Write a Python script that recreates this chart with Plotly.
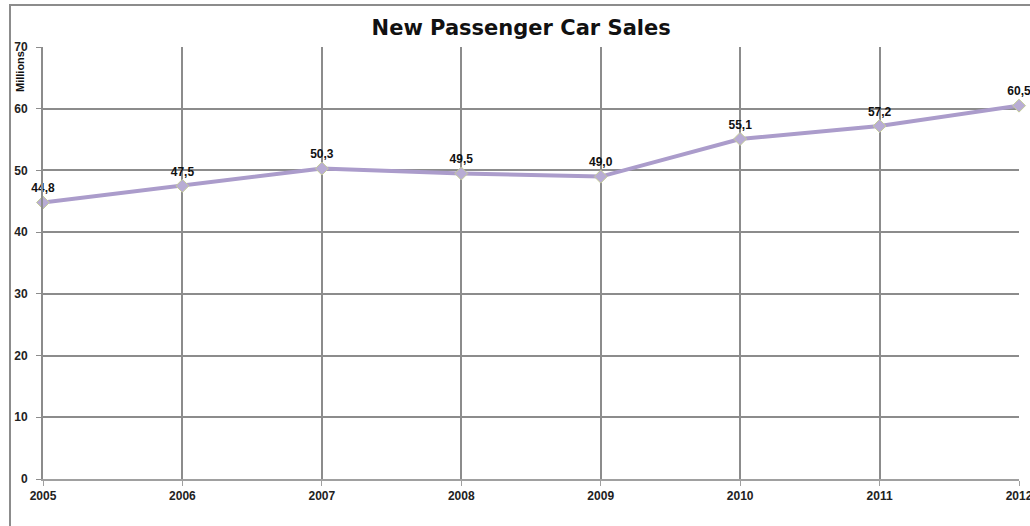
import plotly.graph_objects as go

years = [2005, 2006, 2007, 2008, 2009, 2010, 2011, 2012]
sales = [44.8, 47.5, 50.3, 49.5, 49.0, 55.1, 57.2, 60.5]
labels = [f"{v:.1f}".replace(".", ",") for v in sales]
y_ticks = [0, 10, 20, 30, 40, 50, 60, 70]
x_ticks = years

FONT = "Arial, Liberation Sans"

fig = go.Figure()
fig.add_trace(go.Scatter(
    x=years, y=sales, mode="lines+markers+text",
    line=dict(color="#ab9ccb", width=4),
    marker=dict(symbol="diamond", size=10, color="#b8acd4",
                line=dict(color="#c4cc98", width=1)),
    text=["<b>%s</b>" % t for t in labels], textposition="top center",
    textfont=dict(family=FONT, size=12, color="#111111"),
    cliponaxis=False, hoverinfo="skip", showlegend=False,
))

fig.update_layout(
    width=1030, height=526,
    margin=dict(l=43, r=11, t=47, b=47, autoexpand=False),
    paper_bgcolor="white", plot_bgcolor="white",
    title=dict(text="<b>New Passenger Car Sales</b>", x=0.506, xanchor="center",
               y=0.947, yanchor="middle",
               font=dict(family="DejaVu Sans", size=21, color="#111111")),
    font=dict(family=FONT, size=12, color="#222222"),
)
fig.update_xaxes(range=[2005, 2012], tickvals=x_ticks,
                 ticktext=["<b>%d</b>" % x for x in x_ticks],
                 showgrid=True, gridcolor="#8c8c8c", gridwidth=2,
                 showline=True, linecolor="#a0a0a0", linewidth=2,
                 ticks="outside", ticklen=5, tickcolor="#a0a0a0",
                 ticklabeloverflow="allow", automargin=False,
                 tickfont=dict(family=FONT, size=12, color="#222222"),
                 zeroline=False)
fig.update_yaxes(range=[0, 70], tickvals=y_ticks,
                 ticktext=["<b>%d</b>" % y for y in y_ticks],
                 showgrid=True, gridcolor="#8c8c8c", gridwidth=2,
                 showline=True, linecolor="#8c8c8c", linewidth=2,
                 ticks="outside", ticklen=5, tickcolor="#8c8c8c",
                 ticklabelstandoff=6, automargin=False,
                 tickfont=dict(family=FONT, size=12, color="#222222"),
                 zeroline=False)

fig.add_annotation(text="<b>Millions</b>", textangle=-90, xref="paper", yref="paper",
                   x=(20 - 43) / 976, y=1 - (72 - 47) / 432,
                   xanchor="center", yanchor="middle", showarrow=False,
                   font=dict(family=FONT, size=11, color="#111111"))

fig.add_shape(type="rect", xref="paper", yref="paper",
              x0=(10 - 43) / 976, x1=1.2, y0=-0.3, y1=1 + (47 - 5) / 432,
              line=dict(color="#8c8c8c", width=2), fillcolor="rgba(0,0,0,0)", layer="below")

fig.write_html("out.html")
